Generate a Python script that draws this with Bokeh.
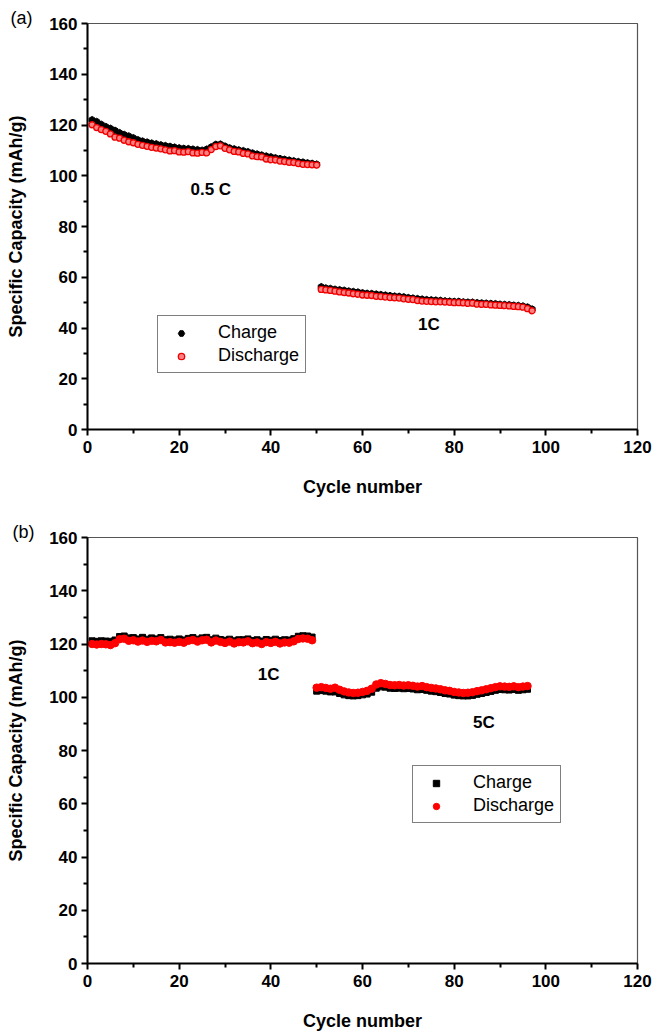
from bokeh.plotting import figure
from bokeh.models import Legend, LegendItem, Label, FixedTicker, Range1d
from bokeh.layouts import column
from bokeh.embed import file_html
from bokeh.resources import INLINE

FONT = "Liberation Sans"

# ---------------- Panel (a) data ----------------
a_cyc_05 = list(range(1, 51))
a_charge_05 = [122.0, 121.3, 120.2, 119.3, 118.6, 117.8, 116.9, 116.2, 115.6, 114.9,
               114.1, 113.6, 113.2, 112.8, 112.5, 112.1, 111.8, 111.5, 111.2, 110.9,
               110.7, 110.6, 110.4, 110.2, 110.0, 110.4, 111.3, 112.3, 112.4, 111.6,
               110.9, 110.5, 110.1, 109.8, 109.4, 108.9, 108.5, 108.1, 107.7, 107.4,
               107.0, 106.7, 106.4, 106.1, 105.8, 105.5, 105.3, 105.0, 104.8, 104.5]
a_discharge_05 = [120.1, 119.0, 118.2, 117.5, 116.5, 115.2, 114.8, 114.0, 113.4, 113.0,
                  112.4, 112.0, 111.6, 111.2, 110.9, 110.6, 110.2, 109.8, 109.9, 109.4,
                  109.3, 109.5, 109.0, 108.9, 109.2, 109.0, 110.3, 111.5, 111.8, 110.8,
                  110.2, 109.6, 109.4, 108.8, 108.6, 107.8, 107.5, 107.4, 106.6, 106.3,
                  106.2, 105.8, 105.6, 105.3, 105.2, 104.8, 104.5, 104.4, 104.3, 104.2]
a_cyc_1 = list(range(51, 98))
a_charge_1 = [56.2, 55.7, 55.5, 55.2, 55.0, 54.8, 54.5, 54.3, 54.1, 53.8,
              53.6, 53.5, 53.3, 53.1, 52.9, 52.7, 52.5, 52.4, 52.2, 51.9,
              51.7, 51.5, 51.3, 51.1, 51.0, 50.9, 50.8, 50.6, 50.5, 50.4,
              50.4, 50.2, 50.1, 50.1, 49.9, 49.8, 49.7, 49.6, 49.5, 49.3,
              49.2, 49.1, 48.9, 48.8, 48.6, 48.2, 47.4]
a_discharge_1 = [55.2, 55.0, 54.8, 54.5, 54.2, 54.0, 53.8, 53.5, 53.3, 53.0,
                 52.9, 52.8, 52.5, 52.4, 52.2, 52.0, 51.9, 51.8, 51.5, 51.3,
                 51.2, 50.8, 50.6, 50.5, 50.4, 50.3, 50.3, 50.2, 50.1, 50.0,
                 50.0, 49.9, 49.7, 49.8, 49.4, 49.3, 49.3, 49.1, 49.0, 48.9,
                 48.8, 48.7, 48.5, 48.4, 48.2, 47.6, 46.8]

# ---------------- Panel (b) data ----------------
b_cyc_1 = list(range(1, 50))
b_charge_1 = [121.2, 121.0, 121.2, 121.1, 121.0, 121.5, 122.8, 123.0, 122.3, 122.4,
              121.9, 122.5, 121.8, 122.3, 121.9, 122.4, 121.6, 121.8, 121.5, 121.9,
              121.5, 122.1, 122.4, 121.8, 122.3, 122.5, 121.6, 122.2, 121.7, 121.4,
              121.8, 121.2, 121.6, 121.6, 121.9, 121.3, 121.6, 121.1, 121.7, 121.4,
              121.8, 121.3, 121.6, 121.5, 122.0, 122.9, 123.1, 123.0, 122.6]
b_discharge_1 = [120.0, 119.8, 120.0, 119.9, 119.6, 120.3, 121.8, 122.0, 121.2, 121.4,
                 120.9, 121.3, 120.8, 121.2, 121.0, 121.5, 120.6, 120.7, 120.5, 120.8,
                 120.5, 121.2, 121.5, 120.9, 121.4, 121.6, 120.6, 121.3, 120.8, 120.4,
                 120.9, 120.2, 120.7, 120.6, 121.0, 120.3, 120.6, 120.0, 120.7, 120.4,
                 120.8, 120.2, 120.6, 120.5, 121.0, 121.9, 122.1, 122.0, 121.4]
b_cyc_5 = list(range(50, 97))
b_charge_5 = [102.3, 102.5, 102.3, 102.0, 102.0, 101.4, 100.9, 100.6, 100.5, 100.6,
              100.9, 101.2, 101.9, 103.4, 103.9, 103.8, 103.4, 103.3, 103.4, 103.2,
              103.3, 103.1, 102.8, 102.9, 102.6, 102.3, 102.1, 101.8, 101.4, 101.2,
              100.8, 100.6, 100.5, 100.5, 100.7, 101.1, 101.4, 101.8, 102.2, 102.6,
              102.9, 102.8, 102.7, 102.9, 102.6, 102.8, 103.0]
b_discharge_5 = [103.6, 103.8, 103.5, 103.2, 103.6, 102.8, 102.2, 101.8, 101.6, 101.7,
                 102.0, 102.4, 103.2, 104.8, 105.3, 105.0, 104.6, 104.5, 104.6, 104.4,
                 104.5, 104.3, 104.0, 104.2, 103.8, 103.5, 103.3, 103.0, 102.6, 102.4,
                 102.0, 101.8, 101.6, 101.7, 101.9, 102.3, 102.6, 103.0, 103.4, 103.8,
                 104.1, 104.0, 103.9, 104.1, 103.8, 104.0, 104.2]

x_ticks = [0, 20, 40, 60, 80, 100, 120]
y_ticks = [0, 20, 40, 60, 80, 100, 120, 140, 160]

W = 652


def make_fig(height, border_left, frame_w, border_top, border_bottom,
             x_label_standoff, y_label_standoff, tag, tag_offset):
    p = figure(width=W, height=height, output_backend="svg", toolbar_location=None,
               x_range=Range1d(0, 120), y_range=Range1d(0, 160),
               min_border_left=border_left, min_border_right=W - border_left - frame_w,
               min_border_top=border_top, min_border_bottom=border_bottom,
               title=tag)
    p.title.align = "left"
    p.title.offset = tag_offset
    p.title.standoff = -8
    p.title.text_font = FONT
    p.title.text_font_style = "normal"
    p.title.text_font_size = "18px"
    p.title.text_color = "black"
    p.xgrid.visible = False
    p.ygrid.visible = False
    p.outline_line_color = "#555555"
    p.outline_line_width = 1.2
    p.background_fill_color = "white"
    p.border_fill_color = "white"
    for ax, ticks in ((p.xaxis[0], x_ticks), (p.yaxis[0], y_ticks)):
        ax.ticker = FixedTicker(ticks=ticks, minor_ticks=[t + 10 for t in ticks[:-1]])
        ax.axis_line_width = 2
        ax.axis_line_color = "black"
        ax.major_tick_line_width = 2
        ax.major_tick_line_color = "black"
        ax.major_tick_out = 6
        ax.major_tick_in = 0
        ax.minor_tick_line_width = 2
        ax.minor_tick_line_color = "black"
        ax.minor_tick_out = 4
        ax.minor_tick_in = 0
        ax.major_label_text_font = FONT
        ax.major_label_text_font_style = "bold"
        ax.major_label_text_font_size = "17px"
        ax.major_label_text_color = "black"
        ax.axis_label_text_font = FONT
        ax.axis_label_text_font_style = "bold"
        ax.axis_label_text_font_size = "18px"
        ax.axis_label_text_color = "black"
    p.xaxis.axis_label = "Cycle number"
    p.yaxis.axis_label = "Specific Capacity (mAh/g)"
    p.xaxis.major_label_standoff = 5
    p.yaxis.major_label_standoff = 4
    p.xaxis.axis_label_standoff = x_label_standoff
    p.yaxis.axis_label_standoff = y_label_standoff
    return p


def add_text(p, x, y, txt, size="17px"):
    p.add_layout(Label(x=x, y=y, text=txt, text_font=FONT, text_font_style="bold",
                       text_font_size=size, text_align="center", text_baseline="middle",
                       text_color="black"))


def make_legend(items, loc, row_h):
    return Legend(items=items, location=loc, border_line_color="black", border_line_width=1,
                  background_fill_color="white", background_fill_alpha=1,
                  label_text_font=FONT, label_text_font_size="18px", label_text_color="black",
                  glyph_width=34, glyph_height=16, label_height=row_h, label_standoff=20,
                  padding=6, spacing=2, margin=0)


# ---------------- Figure (a) ----------------
pa = make_fig(height=499, border_left=87, frame_w=550, border_top=23, border_bottom=70,
              x_label_standoff=21, y_label_standoff=20, tag="(a)", tag_offset=-77)
rc1 = pa.scatter(a_cyc_05, a_charge_05, marker="hex", size=7, angle=0.52,
                 fill_color="black", line_color="black")
pa.scatter(a_cyc_1, a_charge_1, marker="hex", size=7, angle=0.52,
           fill_color="black", line_color="black")
rd1 = pa.scatter(a_cyc_05, a_discharge_05, marker="circle", size=6,
                 fill_color="#ff8080", line_color="#ee0000", line_width=1.3)
pa.scatter(a_cyc_1, a_discharge_1, marker="circle", size=6,
           fill_color="#ff8080", line_color="#ee0000", line_width=1.3)
pa.add_layout(make_legend([LegendItem(label="Charge", renderers=[rc1]),
                           LegendItem(label="Discharge", renderers=[rd1])], (70, 56), 18))
add_text(pa, 26.9, 94.6, "0.5 C")
add_text(pa, 74.5, 41.5, "1C")

# ---------------- Figure (b) ----------------
pb = make_fig(height=534, border_left=85, frame_w=552, border_top=38, border_bottom=66,
              x_label_standoff=21, y_label_standoff=20, tag="(b)", tag_offset=-75)
rc2 = pb.scatter(b_cyc_1, b_charge_1, marker="square", size=6,
                 fill_color="black", line_color="black")
pb.scatter(b_cyc_5, b_charge_5, marker="square", size=6,
           fill_color="black", line_color="black")
rd2 = pb.scatter(b_cyc_1, b_discharge_1, marker="circle", size=7.5,
                 fill_color="#ff0000", line_color="#ff0000")
pb.scatter(b_cyc_5, b_discharge_5, marker="circle", size=7.5,
           fill_color="#ff0000", line_color="#ff0000")
pb.add_layout(make_legend([LegendItem(label="Charge", renderers=[rc2]),
                           LegendItem(label="Discharge", renderers=[rd2])], (325, 140), 19))
add_text(pb, 39.5, 108.4, "1C")
add_text(pb, 86.5, 90.4, "5C")

layout = column(pa, pb)
open("out.html", "w").write(file_html(layout, INLINE))
